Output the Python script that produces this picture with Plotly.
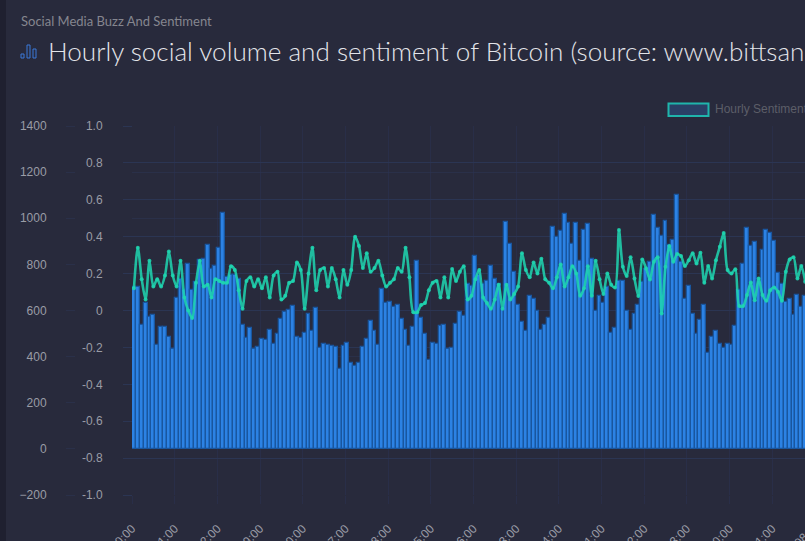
import plotly.graph_objects as go

W, H = 805, 541
BOTTOM = 46
PLOT_H = H - BOTTOM
LEFT = 132

tick_labels = ["00:00", "11:00", "22:00", "09:00", "20:00", "07:00", "18:00", "05:00",
               "16:00", "03:00", "14:00", "01:00", "12:00", "23:00", "10:00", "21:00"]
last_label = "08:00"

volume = [701, 704, 535, 632, 574, 582, 452, 527, 530, 484, 433, 653, 737, 690, 800, 690, 723, 820, 822, 882,
          781, 795, 871, 1024, 745, 752, 752, 737, 539, 481, 526, 433, 443, 478, 474, 517, 455, 498, 561, 595,
          604, 620, 487, 482, 504, 585, 513, 613, 439, 455, 452, 445, 440, 346, 448, 459, 372, 361, 372, 443,
          477, 556, 513, 452, 695, 633, 639, 617, 626, 561, 517, 448, 530, 813, 567, 496, 387, 461, 456, 533,
          539, 435, 439, 543, 595, 578, 716, 708, 835, 752, 716, 726, 795, 737, 716, 607, 982, 887, 769, 626,
          552, 513, 665, 652, 600, 517, 539, 569, 961, 919, 943, 1017, 978, 890, 980, 813, 948, 974, 824, 596,
          661, 632, 704, 503, 526, 726, 726, 596, 517, 585, 626, 723, 781, 810, 1013, 956, 922, 987, 882, 904,
          1100, 810, 652, 707, 585, 496, 559, 626, 417, 487, 509, 455, 438, 455, 452, 533, 691, 803, 956, 878,
          895, 730, 861, 948, 936, 900, 764, 716, 636, 652, 582, 669, 617, 665]

sentiment = [.12, .34, .17, .06, .27, .13, .17, .13, .19, .32, .19, .13, .27, .07, .00, -.04, .15, .27, .13, .14,
             .07, .17, .16, .15, .15, .24, .22, .11, .01, .16, .18, .13, .17, .12, .18, .07, .19, .21, .06, .08,
             .15, .16, .26, .22, .01, .20, .34, .11, .22, .23, .13, .23, .17, .07, .22, .14, .22, .40, .35, .23,
             .31, .21, .23, .27, .19, .13, .15, .17, .23, .21, .34, .18, -.01, -.01, .03, .04, .11, .15, .16, .07,
             .18, .07, .225, .16, .21, .24, .06, .08, .17, .22, .07, .04, .01, .06, .14, .01, .14, .06, .09, .13,
             .31, .22, .18, .26, .20, .28, .17, .15, .12, .18, .25, .13, .18, .24, .20, .08, .12, .24, .08, .27,
             .17, .09, .20, .14, .125, .436, .237, .187, .288, .174, .078, .277, .228, .168, .264, .288, -.016, .237, .349, .264,
             .306, .295, .241, .273, .31, .255, .313, .15, .241, .174, .273, .346, .42, .219, .201, .223, .024, .024, .084, .152,
             .056, .174, .084, .053, .11, .125, .102, .053, .21, .277, .288, .174, .241, .156]

count_ticks = [-200, 0, 200, 400, 600, 800, 1000, 1200, 1400]
sent_ticks = [-1.0, -0.8, -0.6, -0.4, -0.2, 0, 0.2, 0.4, 0.6, 0.8, 1.0]
sent_text = ["-1.0", "-0.8", "-0.6", "-0.4", "-0.2", "0", "0.2", "0.4", "0.6", "0.8", "1.0"]

BG = "#282a3c"
GRID = "#2b3553"
TICK_FONT = dict(family="Liberation Sans", size=12, color="#9a9ca6")


def px(x):
    return x / W


def py(y):
    return (PLOT_H - y) / PLOT_H


fig = go.Figure()
fig.add_trace(go.Bar(x=list(range(len(volume))), y=volume, name="Hourly Social Volume",
                     marker=dict(color="#2c82e4", line=dict(color="#19569f", width=1.3)),
                     width=1, yaxis="y"))
fig.add_trace(go.Scatter(x=list(range(len(sentiment))), y=sentiment, name="Hourly Sentiment", yaxis="y2",
                         mode="lines+markers",
                         line=dict(color="rgba(30,214,176,0.85)", width=2.6, shape="spline", smoothing=0.8),
                         marker=dict(size=4, color="rgba(30,214,176,0.85)")))

step = 11
fig.update_layout(
    width=W, height=H, margin=dict(l=0, r=0, t=0, b=BOTTOM, autoexpand=False),
    paper_bgcolor=BG, plot_bgcolor=BG, showlegend=False, bargap=0,
    xaxis=dict(domain=[px(LEFT), 1], range=[-0.5, 172.95], automargin=False,
               tickmode="array", tickvals=[-0.5 + step * k for k in range(len(tick_labels))],
               ticktext=tick_labels, tickangle=-45, tickfont=TICK_FONT,
               ticks="outside", ticklen=8, tickcolor="#292e48", tickwidth=1,
               ticklabelstandoff=13, showgrid=True, gridcolor="#292e48", gridwidth=1, zeroline=False),
    yaxis=dict(domain=[0, py(126)], range=[-200, 1400], tickvals=count_ticks, automargin=False,
               anchor="free", position=px(75), side="left", tickfont=TICK_FONT,
               ticks="outside", ticklen=9, tickcolor="rgba(43,53,83,0.55)", ticklabelstandoff=17,
               showgrid=True, gridcolor="rgba(43,53,83,0.55)", zeroline=False),
    yaxis2=dict(domain=[0, py(126)], range=[-1, 1], tickvals=sent_ticks, ticktext=sent_text, automargin=False,
                overlaying="y", anchor="free", position=px(LEFT), side="left", tickfont=TICK_FONT,
                ticks="outside", ticklen=9, tickcolor=GRID, ticklabelstandoff=18,
                showgrid=True, gridcolor=GRID, zeroline=False),
)

# header, legend swatch and the clipped last tick sit outside the axes
fig.add_shape(type="rect", xref="paper", yref="paper", x0=0, x1=px(6), y0=py(H), y1=1,
              fillcolor="#1f2030", line_width=0, layer="below")
fig.add_shape(type="rect", xref="paper", yref="paper", x0=px(668.5), x1=px(708.5), y0=py(116), y1=py(103.5),
              fillcolor="#2a4066", line=dict(color="#1fb5ac", width=2))
for x0, x1, y0 in [(21, 24, 54), (27, 30, 45), (33, 36, 49)]:
    fig.add_shape(type="rect", xref="paper", yref="paper", x0=px(x0), x1=px(x1), y0=py(58), y1=py(y0),
                  line=dict(color="#3a78d8", width=1), fillcolor="rgba(0,0,0,0)")

fig.add_annotation(xref="paper", yref="paper", x=px(19), y=py(20.5), text="Social Media Buzz And Sentiment",
                   xanchor="left", yanchor="middle", showarrow=False,
                   font=dict(family="Lato", size=13, color="#85868f"))
fig.add_annotation(xref="paper", yref="paper", x=px(46), y=py(51), xanchor="left", yanchor="middle",
                   text="Hourly social volume and sentiment of Bitcoin (source: www.bittsanalytics.com)",
                   showarrow=False, font=dict(family="Lato", size=26.1, weight=300, color="#e4e5ea"))
fig.add_annotation(xref="paper", yref="paper", x=px(713), y=py(109), xanchor="left", yanchor="middle",
                   text="Hourly Sentiment", showarrow=False,
                   font=dict(family="Liberation Sans", size=12, color="#5c5e68"))
fig.add_annotation(xref="paper", yref="paper", x=px(807), y=py(534), xanchor="center", yanchor="middle",
                   text=last_label, textangle=-45, showarrow=False, font=TICK_FONT)

fig.write_html("out.html", config=dict(displayModeBar=False),
               post_script="document.body.style.margin='0';document.body.style.overflow='hidden';document.body.style.background='#282a3c';")
